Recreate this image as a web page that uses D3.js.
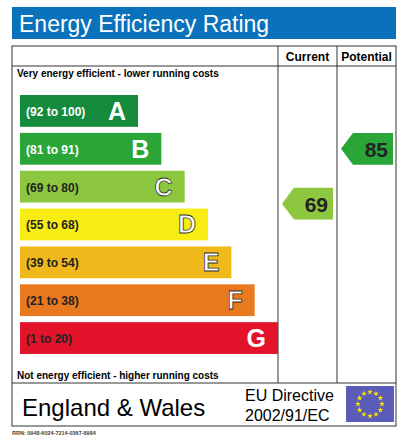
<!DOCTYPE html>
<html>
<head>
<script src="https://d3js.org/d3.v7.min.js"></script>
<style>body{margin:0;background:#fff}</style>
</head>
<body>
<div id="chart"></div>
<script>
const bands = ["A", "B", "C", "D", "E", "F", "G"];
const ranges = ["(92 to 100)", "(81 to 91)", "(69 to 80)", "(55 to 68)", "(39 to 54)", "(21 to 38)", "(1 to 20)"];
const colors = ["#138a3c", "#2aa538", "#8dc63f", "#f7ec13", "#f0b91b", "#e8791f", "#e3132b"];
const current = { value: 69, band: "C" };
const potential = { value: 85, band: "B" };

const W = 413, H = 437;
const svg = d3.select("#chart").append("svg").attr("width", W).attr("height", H)
    .style("font-family", "Arial, 'Liberation Sans', sans-serif");

// title band
svg.append("rect").attr("x", 12).attr("y", 7).attr("width", 384).attr("height", 32).attr("fill", "#0a72bb");
svg.append("text").attr("x", 19).attr("y", 32).attr("fill", "#fff").style("font-size", "23px").text("Energy Efficiency Rating");

// table frame
const L = 12, R = 396, T = 46, B = 426, c1 = 278, c2 = 337, hdr = 66, foot = 383;
const g = svg.append("g").attr("fill", "none").attr("stroke", "#333").attr("stroke-width", 1);
g.append("rect").attr("x", L).attr("y", T).attr("width", R - L).attr("height", B - T);
g.append("line").attr("x1", L).attr("x2", R).attr("y1", hdr).attr("y2", hdr);
g.append("line").attr("x1", L).attr("x2", R).attr("y1", foot).attr("y2", foot);
g.append("line").attr("x1", c1).attr("x2", c1).attr("y1", T).attr("y2", foot);
g.append("line").attr("x1", c2).attr("x2", c2).attr("y1", T).attr("y2", foot);

svg.append("text").attr("x", (c1 + c2) / 2).attr("y", 61).attr("text-anchor", "middle")
    .style("font-size", "12px").style("font-weight", "bold").text("Current");
svg.append("text").attr("x", (c2 + R) / 2).attr("y", 61).attr("text-anchor", "middle")
    .style("font-size", "12px").style("font-weight", "bold").text("Potential");
svg.append("text").attr("x", 17).attr("y", 77).style("font-size", "10px").style("font-weight", "bold")
    .text("Very energy efficient - lower running costs");
svg.append("text").attr("x", 17).attr("y", 379).style("font-size", "10px").style("font-weight", "bold")
    .text("Not energy efficient - higher running costs");

// scales
const y = d3.scaleBand().domain(bands).range([92, 357]).paddingInner(0.16).paddingOuter(0.08);
const w = d3.scaleLinear().domain([0, 6]).range([118, 258]);

const rows = svg.append("g").selectAll("g").data(bands).join("g")
    .attr("transform", d => `translate(20,${y(d)})`);
rows.append("rect").attr("width", (d, i) => w(i)).attr("height", y.bandwidth())
    .attr("fill", (d, i) => colors[i]);
rows.append("text").attr("x", 6).attr("y", y.bandwidth() / 2 + 5)
    .style("font-size", "12px").style("font-weight", "bold")
    .attr("fill", (d, i) => i === 0 || i === 1 ? "#fff" : "#222")
    .text((d, i) => ranges[i]);
rows.append("text").attr("x", (d, i) => w(i) - 12).attr("y", y.bandwidth() / 2 + 9)
    .attr("text-anchor", "end").style("font-size", "25px").style("font-weight", "900")
    .attr("fill", "#fff")
    .attr("stroke", (d, i) => i >= 2 && i <= 5 ? "#333" : "none").attr("stroke-width", 0.8)
    .text(d => d);

// arrows
function arrow(rating, x0, x1) {
    const yy = y(rating.band) + y.bandwidth() / 2 + (rating.band === "C" ? 17 : 0);
    const h = y.bandwidth() / 2;
    const col = colors[bands.indexOf(rating.band)];
    svg.append("path")
        .attr("d", `M${x0},${yy} L${x0 + h * 0.75},${yy - h} L${x1},${yy - h} L${x1},${yy + h} L${x0 + h * 0.75},${yy + h} Z`)
        .attr("fill", col);
    svg.append("text").attr("x", x1 - 5).attr("y", yy + 8).attr("text-anchor", "end")
        .style("font-size", "21px").style("font-weight", "bold").attr("fill", "#222").text(rating.value);
}
arrow(current, 282, 333);
arrow(potential, 341, 393);

// footer
svg.append("text").attr("x", 22).attr("y", 416).style("font-size", "24px").text("England & Wales");
svg.append("text").attr("x", 245).attr("y", 401).style("font-size", "16px").text("EU Directive");
svg.append("text").attr("x", 245).attr("y", 421).style("font-size", "16px").text("2002/91/EC");
svg.append("rect").attr("x", 346).attr("y", 386).attr("width", 48).attr("height", 36).attr("fill", "#5b5bb8");
const stars = svg.append("g").attr("fill", "#ffe600");
d3.range(12).forEach(i => {
    const a = i / 12 * 2 * Math.PI;
    stars.append("path").attr("d", d3.symbol(d3.symbolStar, 10)())
        .attr("transform", `translate(${370 + 12 * Math.sin(a)},${404 - 12 * Math.cos(a)})`);
});
svg.append("text").attr("x", 12).attr("y", 435).style("font-size", "5.5px").style("font-weight", "bold")
    .attr("fill", "#444").text("RRN: 0948-6024-7214-0367-8984");
</script>
</body>
</html>
